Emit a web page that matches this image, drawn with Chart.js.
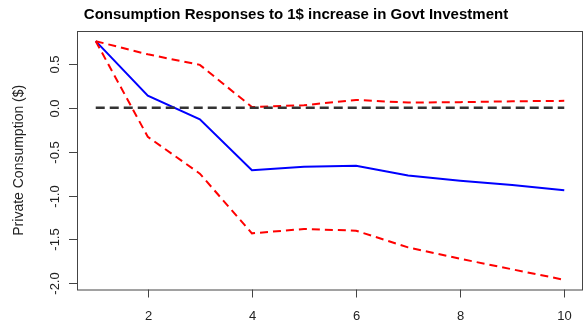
<!DOCTYPE html>
<html>
<head>
<meta charset="utf-8">
<script src="https://cdn.jsdelivr.net/npm/chart.js@4.4.0/dist/chart.umd.min.js"></script>
<style>
  html, body { margin: 0; padding: 0; background: #fff; }
  #wrap { width: 584px; height: 326px; }
</style>
</head>
<body>
<div id="wrap"><canvas id="irfChart" width="584" height="326"></canvas></div>
<script>
// horizon (quarters) and impulse response with its band
const horizon = [1, 2, 3, 4, 5, 6, 7, 8, 9, 10];
const response = [0.76, 0.14, -0.13, -0.71, -0.67, -0.66, -0.77, -0.83, -0.88, -0.94];
const upperBand = [0.76, 0.61, 0.49, 0.01, 0.03, 0.09, 0.06, 0.065, 0.075, 0.08];
const lowerBand = [0.76, -0.33, -0.75, -1.43, -1.38, -1.40, -1.59, -1.72, -1.84, -1.96];
const zeroLine = [0, 0, 0, 0, 0, 0, 0, 0, 0, 0];

const xTicks = [2, 4, 6, 8, 10];
const yTicks = [-2.0, -1.5, -1.0, -0.5, 0.0, 0.5];

const FONT = '"Liberation Sans", Arial, Helvetica, sans-serif';

function pts(ys) {
  return horizon.map((h, i) => ({ x: h, y: ys[i] }));
}

// base-graphics style frame, ticks and labels
const rAxes = {
  id: 'rAxes',
  afterDraw(chart) {
    const ctx = chart.ctx;
    const a = chart.chartArea;
    const xs = chart.scales.x, ys = chart.scales.y;
    ctx.save();
    ctx.strokeStyle = '#444';
    ctx.lineWidth = 1;
    ctx.strokeRect(a.left + 0.5, a.top + 0.5, a.right - a.left - 1, a.bottom - a.top);

    // x axis ticks
    ctx.fillStyle = '#222';
    ctx.font = '13px ' + FONT;
    ctx.textAlign = 'center';
    ctx.textBaseline = 'middle';
    xTicks.forEach(t => {
      const px = Math.round(xs.getPixelForValue(t)) + 0.5;
      ctx.beginPath();
      ctx.moveTo(px, a.bottom);
      ctx.lineTo(px, a.bottom + 8);
      ctx.stroke();
      ctx.fillText(String(t), px, a.bottom + 27);
    });

    // y axis ticks, labels turned sideways
    yTicks.forEach(t => {
      const py = Math.round(ys.getPixelForValue(t)) + 0.5;
      ctx.beginPath();
      ctx.moveTo(a.left, py);
      ctx.lineTo(a.left - 8, py);
      ctx.stroke();
      ctx.save();
      ctx.translate(a.left - 22, py);
      ctx.rotate(-Math.PI / 2);
      ctx.fillText(t.toFixed(1), 0, 0);
      ctx.restore();
    });

    // y axis title
    ctx.save();
    ctx.font = '14px ' + FONT;
    ctx.translate(19, (a.top + a.bottom) / 2);
    ctx.rotate(-Math.PI / 2);
    ctx.fillText('Private Consumption ($)', 0, 0);
    ctx.restore();

    // main title
    ctx.font = 'bold 15px ' + FONT;
    ctx.fillStyle = '#000';
    ctx.fillText('Consumption Responses to 1$ increase in Govt Investment', 296, 15);
    ctx.restore();
  }
};

new Chart(document.getElementById('irfChart').getContext('2d'), {
  type: 'line',
  data: {
    datasets: [
      { data: pts(zeroLine), borderColor: '#333', borderWidth: 2.5, borderDash: [9, 5], order: 0 },
      { data: pts(upperBand), borderColor: '#ff0000', borderWidth: 2, borderDash: [8, 5], order: 1 },
      { data: pts(lowerBand), borderColor: '#ff0000', borderWidth: 2, borderDash: [8, 5], order: 2 },
      { data: pts(response), borderColor: '#0000ff', borderWidth: 2, order: 3 }
    ]
  },
  options: {
    responsive: false,
    animation: false,
    layout: { padding: { left: 77, right: 1, top: 31, bottom: 36.5 } },
    elements: { point: { radius: 0 }, line: { tension: 0, fill: false } },
    plugins: { legend: { display: false }, tooltip: { enabled: false } },
    scales: {
      x: { type: 'linear', min: 0.64, max: 10.36, display: false },
      y: { type: 'linear', min: -2.07, max: 0.876, display: false }
    }
  },
  plugins: [rAxes]
});
</script>
</body>
</html>
